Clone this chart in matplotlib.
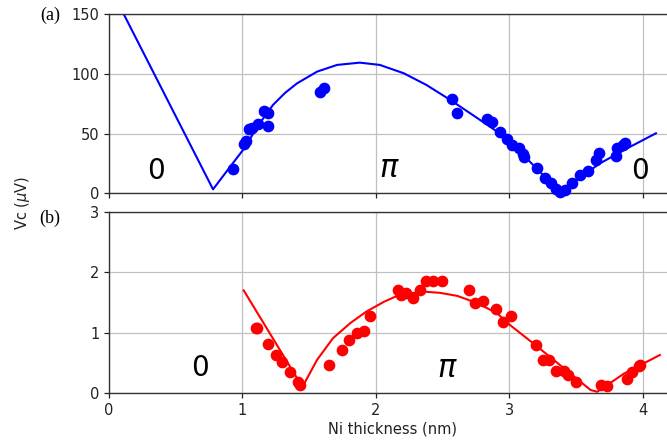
import numpy as np
import matplotlib
matplotlib.use('Agg')
import matplotlib.pyplot as plt

# (a) fit line
fit_a_x = [0.11, 0.78, 0.90, 1.01, 1.12, 1.23, 1.32, 1.41, 1.56, 1.71, 1.88, 2.03,
           2.21, 2.38, 2.56, 2.74, 2.91, 3.07, 3.23, 3.38, 3.53, 3.68, 3.90, 4.10]
fit_a_y = [150, 3.3, 21, 37, 57, 74, 84, 92, 101.8, 107.4, 109.3, 107.4,
           100.4, 90.6, 78, 64.5, 51.6, 36, 18, 1.3, 13, 25, 38.5, 50.2]

# (a) measured points
pts_a_x = [0.93, 1.01, 1.03, 1.05, 1.07, 1.12, 1.16, 1.19, 1.19, 1.58, 1.61,
           2.57, 2.61, 2.83, 2.87, 2.93, 2.98, 3.02, 3.07, 3.10, 3.11, 3.21, 3.27,
           3.31, 3.35, 3.38, 3.42, 3.47, 3.53, 3.59, 3.65, 3.67, 3.80, 3.81, 3.85, 3.87]
pts_a_y = [20, 41, 44, 54, 55, 58, 69, 67, 56, 85, 88,
           79, 67, 62, 60, 51, 45, 40, 38, 33, 30, 21, 12.5,
           8.5, 4, 1, 2.5, 8.5, 15, 19, 28, 34, 31, 38, 40, 42]

# (b) fit line
fit_b_x = [1.01, 1.45, 1.56, 1.68, 1.81, 1.93, 2.06, 2.18, 2.36, 2.48, 2.61, 2.76,
           2.91, 3.01, 3.21, 3.41, 3.61, 3.66, 3.86, 4.13]
fit_b_y = [1.70, 0.10, 0.55, 0.91, 1.16, 1.35, 1.51, 1.63, 1.68, 1.66, 1.61, 1.49,
           1.32, 1.12, 0.77, 0.41, 0.05, 0.02, 0.32, 0.63]

# (b) measured points
pts_b_x = [1.10, 1.11, 1.19, 1.25, 1.30, 1.36, 1.42, 1.43, 1.65, 1.745, 1.80, 1.86,
           1.91, 1.96, 2.17, 2.19, 2.23, 2.28, 2.33, 2.38, 2.43, 2.50, 2.70, 2.74,
           2.80, 2.90, 2.95, 3.01, 3.20, 3.25, 3.30, 3.35, 3.41, 3.44, 3.50, 3.69,
           3.73, 3.88, 3.92, 3.97, 3.98]
pts_b_y = [1.08, 1.08, 0.81, 0.63, 0.52, 0.35, 0.19, 0.13, 0.46, 0.71, 0.87, 1.00,
           1.02, 1.28, 1.70, 1.63, 1.66, 1.58, 1.71, 1.85, 1.85, 1.86, 1.71, 1.49,
           1.53, 1.40, 1.17, 1.27, 0.79, 0.55, 0.54, 0.37, 0.37, 0.29, 0.19, 0.13,
           0.11, 0.23, 0.34, 0.44, 0.46]

fig = plt.figure(figsize=(6.67, 4.43), dpi=100)
# right edge of the axes sits past the figure, as in the cropped original
ax1 = fig.add_axes([0.1634, 0.5637, 0.85, 0.4047])
ax2 = fig.add_axes([0.1634, 0.1129, 0.85, 0.4086])

def style(ax):
    for s in ax.spines.values():
        s.set_color('#333333')
        s.set_linewidth(1.0)
    ax.grid(True, color='#c0c0c0', linewidth=0.9)
    ax.set_axisbelow(True)
    ax.tick_params(direction='out', length=3.5, width=0.9, labelsize=10.5,
                   colors='#222222')
    ax.set_xlim(0, 4.25)
    ax.set_xticks([0, 1, 2, 3, 4])

style(ax1)
ax1.plot(fit_a_x, fit_a_y, color='#0000ff', lw=1.5)
ax1.scatter(pts_a_x, pts_a_y, s=55, color='#0000ff', zorder=3, clip_on=False)
ax1.set_ylim(0, 150)
ax1.set_yticks([0, 50, 100, 150])
ax1.tick_params(axis='x', labelbottom=False)
ax1.text(0.35, 19, '0', fontsize=20, ha='center', va='center')
ax1.text(2.1, 21, r'$\pi$', fontsize=22, ha='center', va='center')
ax1.text(3.98, 19, '0', fontsize=20, ha='center', va='center')

style(ax2)
ax2.plot(fit_b_x, fit_b_y, color='#ff0000', lw=1.5)
ax2.scatter(pts_b_x, pts_b_y, s=55, color='#ff0000', zorder=3, clip_on=False)
ax2.set_ylim(0, 3)
ax2.set_yticks([0, 1, 2, 3])
ax2.text(0.68, 0.41, '0', fontsize=20, ha='center', va='center')
ax2.text(2.54, 0.41, r'$\pi$', fontsize=22, ha='center', va='center')
ax2.set_xlabel('Ni thickness (nm)', fontsize=10.5, color='#222222', labelpad=3)

fig.text(50 / 667, 1 - 15 / 443, '(a)', family='Liberation Serif', fontsize=13,
         ha='center', va='center')
fig.text(50 / 667, 1 - 218 / 443, '(b)', family='Liberation Serif', fontsize=13,
         ha='center', va='center')
fig.text(22 / 667, 1 - 203 / 443, r'Vc ($\mu$V)', rotation=90, fontsize=10.5,
         ha='center', va='center', color='#222222')

fig.savefig('out.png', dpi=100)
